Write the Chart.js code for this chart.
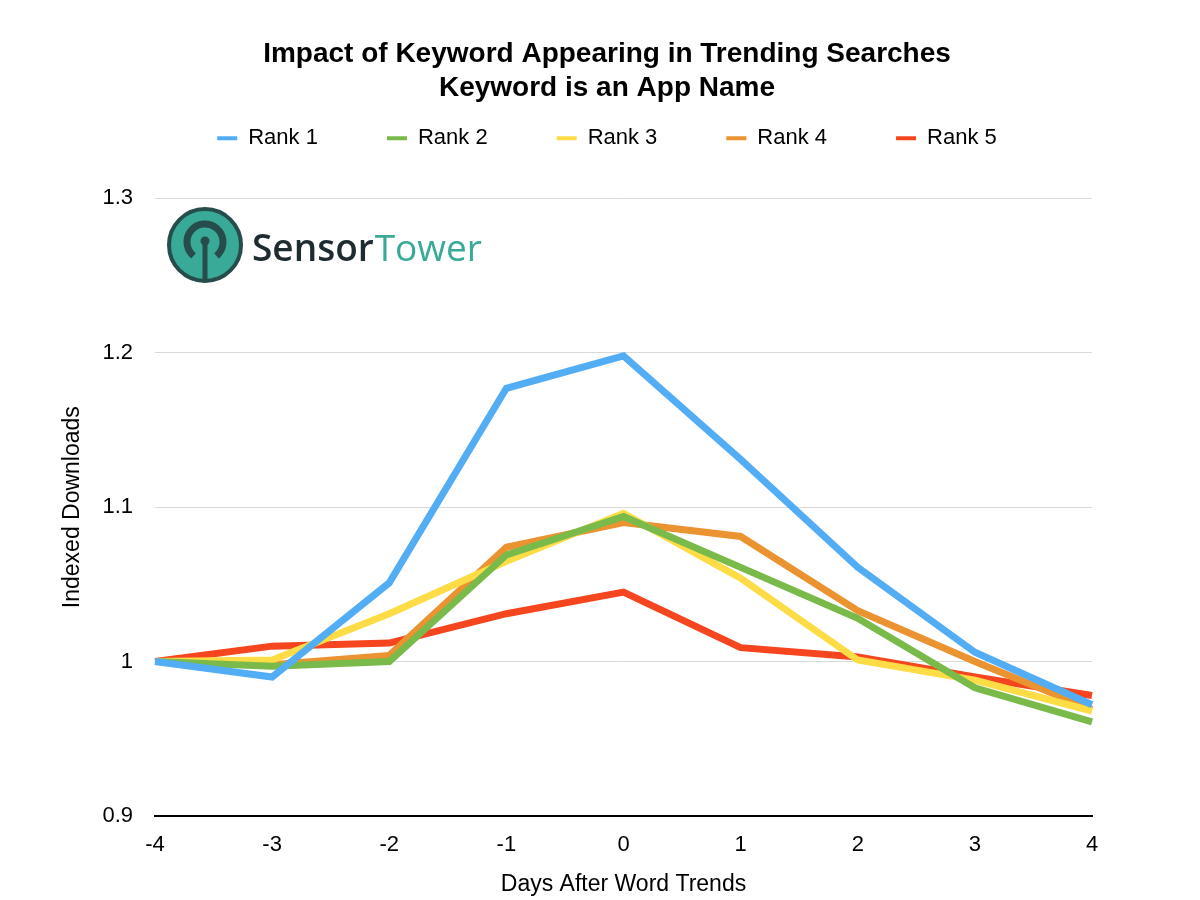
<!DOCTYPE html>
<html>
<head>
<meta charset="utf-8">
<script src="https://cdn.jsdelivr.net/npm/chart.js@4"></script>
<style>
  html, body { margin: 0; padding: 0; background: #fff; }
  #wrap { width: 1200px; height: 900px; position: relative; }
</style>
</head>
<body>
<div id="wrap"><canvas id="chart"></canvas></div>
<script>
// Days relative to the keyword trending
const days = ['-4', '-3', '-2', '-1', '0', '1', '2', '3', '4'];

const rank1 = [1.000, 0.990, 1.051, 1.177, 1.198, 1.131, 1.061, 1.006, 0.972];
const rank2 = [1.000, 0.997, 1.000, 1.069, 1.094, 1.061, 1.028, 0.983, 0.961];
const rank3 = [1.000, 1.001, 1.031, 1.065, 1.096, 1.054, 1.001, 0.988, 0.968];
const rank4 = [1.000, 0.998, 1.004, 1.074, 1.090, 1.081, 1.033, 1.000, 0.969];
const rank5 = [1.000, 1.010, 1.012, 1.031, 1.045, 1.009, 1.003, 0.990, 0.978];

const seriesNames = ['Rank 1', 'Rank 2', 'Rank 3', 'Rank 4', 'Rank 5'];
const seriesColors = ['#52adf4', '#79ba4a', '#fddc45', '#eb9330', '#f5461f'];

const FONT = '"Liberation Sans", Arial, Helvetica, sans-serif';

// Sensor Tower watermark, drawn under the lines
const logoPlugin = {
  id: 'logo',
  beforeDatasetsDraw(chart) {
    const ctx = chart.ctx;
    const cx = 205, cy = 245, r = 36;
    ctx.save();
    ctx.beginPath();
    ctx.arc(cx, cy, r, 0, Math.PI * 2);
    ctx.fillStyle = '#39aa97';
    ctx.fill();
    ctx.lineWidth = 4;
    ctx.strokeStyle = '#274c4c';
    ctx.stroke();
    // inner ring, open at the bottom
    ctx.beginPath();
    ctx.arc(cx, cy - 3, 18, Math.PI * 0.72, Math.PI * 2.28);
    ctx.lineWidth = 7;
    ctx.strokeStyle = '#274c4c';
    ctx.stroke();
    // mast
    ctx.beginPath();
    ctx.moveTo(cx, cy - 4);
    ctx.lineTo(cx, cy + r);
    ctx.lineWidth = 5;
    ctx.stroke();
    ctx.beginPath();
    ctx.arc(cx, cy - 4, 4.5, 0, Math.PI * 2);
    ctx.fillStyle = '#274c4c';
    ctx.fill();
    // wordmark
    ctx.textBaseline = 'alphabetic';
    ctx.font = '600 37px "Open Sans", sans-serif';
    ctx.fillStyle = '#1e2c31';
    ctx.fillText('Sensor', 252, 261);
    const w = ctx.measureText('Sensor').width;
    ctx.font = '400 37px "Open Sans", sans-serif';
    ctx.fillStyle = '#39aa97';
    ctx.fillText('Tower', 252 + w + 1, 261);
    ctx.restore();
  }
};

const datasets = [rank1, rank2, rank3, rank4, rank5].map((data, i) => ({
  label: seriesNames[i],
  data: data,
  borderColor: seriesColors[i],
  backgroundColor: seriesColors[i],
  borderWidth: 7,
  pointRadius: 0,
  pointHoverRadius: 0,
  tension: 0,
  fill: false,
  borderJoinStyle: 'miter',
}));

new Chart(document.getElementById('chart'), {
  type: 'line',
  data: { labels: days, datasets },
  plugins: [logoPlugin],
  options: {
    responsive: true,
    maintainAspectRatio: false,
    animation: false,
    layout: { padding: { left: 14, right: 0, top: 37, bottom: 0 } },
    plugins: {
      title: {
        display: true,
        text: ['Impact of Keyword Appearing in Trending Searches', 'Keyword is an App Name'],
        color: '#000',
        font: { family: FONT, size: 28, weight: 'bold', lineHeight: 1.22 },
        padding: { top: 0, bottom: -47 },
      },
      legend: {
        display: true,
        labels: {
          color: '#000',
          font: { family: FONT, size: 22 },
          boxWidth: 20,
          boxHeight: 4,
          padding: 69,
          generateLabels: (chart) =>
            Chart.defaults.plugins.legend.labels.generateLabels(chart)
              .map(item => ({ ...item, lineWidth: 0, strokeStyle: 'transparent' })),
        },
      },
      tooltip: { enabled: false },
    },
    scales: {
      x: {
        grid: { display: false },
        border: { display: true, color: '#000', width: 2 },
        ticks: { color: '#000', font: { family: FONT, size: 22 }, padding: 8, maxRotation: 0 },
        title: {
          display: true,
          text: 'Days After Word Trends',
          color: '#000',
          font: { family: FONT, size: 23 },
          padding: { top: 0, bottom: 2 },
        },
        afterFit: (s) => { s.height = 84; },
      },
      // empty spacer scales that keep the plot area where the original has it
      xTop: {
        type: 'category',
        position: 'top',
        display: true,
        grid: { display: false },
        border: { display: false },
        ticks: { display: false },
        afterFit: (s) => { s.height = 39; },
      },
      y: {
        min: 0.9,
        max: 1.3,
        grid: { color: '#d9d9d9', lineWidth: 1, drawTicks: false },
        border: { display: false },
        ticks: {
          stepSize: 0.1,
          color: '#000',
          font: { family: FONT, size: 22 },
          padding: 22,
          callback: (v) => String(+v.toFixed(1)),
        },
        title: {
          display: true,
          text: 'Indexed Downloads',
          color: '#000',
          font: { family: FONT, size: 23 },
          padding: { top: 45, bottom: 0 },
        },
        afterFit: (s) => { s.width = 141; },
      },
      yRight: {
        type: 'linear',
        position: 'right',
        display: true,
        grid: { display: false },
        border: { display: false },
        ticks: { display: false },
        afterFit: (s) => { s.width = 108; },
      },
    },
  },
});
</script>
</body>
</html>
